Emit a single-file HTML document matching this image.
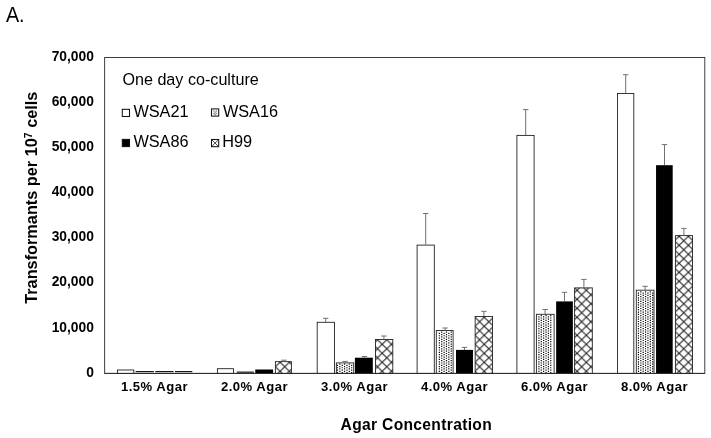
<!DOCTYPE html>
<html><head><meta charset="utf-8"><title>Figure A</title>
<style>html,body{margin:0;padding:0;background:#fff}body{width:711px;height:438px;overflow:hidden}</style></head>
<body>
<svg width="711" height="438" viewBox="0 0 711 438" style="display:block">
<defs>
<pattern id="hatch" width="9.28" height="9.0" patternUnits="userSpaceOnUse" patternTransform="translate(679.110 299.300)"><rect width="9.28" height="9.0" fill="#fff"/><path d="M-1.160 -1.125L10.440 10.125M10.440 -1.125L-1.160 10.125" stroke="#1c1c1c" stroke-width="1.0" fill="none"/></pattern>
</defs>
<rect x="0" y="0" width="711" height="438" fill="#fff"/>
<rect x="104.65" y="57.5" width="600.15" height="315.9" fill="none" stroke="#2a2a2a" stroke-width="0.9"/>
<rect x="117.45" y="370.00" width="16.35" height="3.40" fill="#fff" stroke="#222" stroke-width="0.9"/>
<rect x="135.60" y="371.10" width="18.30" height="1.1" fill="#000"/>
<rect x="155.30" y="371.10" width="18.30" height="1.1" fill="#000"/>
<rect x="175.00" y="371.10" width="17.30" height="1.1" fill="#000"/>
<rect x="217.40" y="368.70" width="16.10" height="4.70" fill="#fff" stroke="#222" stroke-width="0.9"/>
<rect x="236.75" y="371.60" width="17.15" height="1.1" fill="#000"/>
<rect x="255.25" y="369.50" width="17.85" height="3.90" fill="#000"/>
<rect x="275.40" y="361.65" width="16.00" height="11.75" fill="url(#hatch)" stroke="#222" stroke-width="0.9"/>
<path d="M283.90 361.35V360.20M281.20 360.20H286.60" stroke="#707070" stroke-width="1" fill="none"/>
<rect x="317.20" y="322.30" width="17.30" height="51.10" fill="#fff" stroke="#222" stroke-width="0.9"/>
<path d="M325.70 322.00V318.30M323.00 318.30H328.40" stroke="#707070" stroke-width="1" fill="none"/>
<rect x="336.35" y="362.90" width="17.35" height="10.50" fill="#fff" stroke="#222" stroke-width="0.9"/>
<path d="M337.46 364.79V372.90M339.83 363.60V372.90M342.20 364.79V372.90M344.57 363.60V372.90M346.94 364.79V372.90M349.31 363.60V372.90M351.68 364.79V372.90" stroke="#000" stroke-width="1.18" stroke-dasharray="1.18 1.190" fill="none"/>
<path d="M345.10 362.60V361.40M342.40 361.40H347.80" stroke="#707070" stroke-width="1" fill="none"/>
<rect x="354.90" y="357.70" width="17.90" height="15.70" fill="#000"/>
<path d="M364.50 357.70V356.50M361.80 356.50H367.20" stroke="#707070" stroke-width="1" fill="none"/>
<rect x="375.50" y="339.50" width="17.30" height="33.90" fill="url(#hatch)" stroke="#222" stroke-width="0.9"/>
<path d="M383.90 339.20V336.00M381.20 336.00H386.60" stroke="#707070" stroke-width="1" fill="none"/>
<rect x="417.10" y="245.10" width="17.20" height="128.30" fill="#fff" stroke="#222" stroke-width="0.9"/>
<path d="M425.70 244.80V213.50M423.00 213.50H428.40" stroke="#707070" stroke-width="1" fill="none"/>
<rect x="436.30" y="330.50" width="16.80" height="42.90" fill="#fff" stroke="#222" stroke-width="0.9"/>
<path d="M439.37 332.79V372.90M441.74 331.61V372.90M444.11 332.79V372.90M446.48 331.61V372.90M448.85 332.79V372.90M451.22 331.61V372.90" stroke="#000" stroke-width="1.18" stroke-dasharray="1.18 1.190" fill="none"/>
<path d="M445.10 330.20V328.00M442.40 328.00H447.80" stroke="#707070" stroke-width="1" fill="none"/>
<rect x="456.00" y="349.90" width="16.97" height="23.50" fill="#000"/>
<path d="M464.50 349.90V347.40M461.80 347.40H467.20" stroke="#707070" stroke-width="1" fill="none"/>
<rect x="475.15" y="316.50" width="17.30" height="56.90" fill="url(#hatch)" stroke="#222" stroke-width="0.9"/>
<path d="M483.90 316.20V311.30M481.20 311.30H486.60" stroke="#707070" stroke-width="1" fill="none"/>
<rect x="516.90" y="135.40" width="17.20" height="238.00" fill="#fff" stroke="#222" stroke-width="0.9"/>
<path d="M525.70 135.10V109.60M523.00 109.60H528.40" stroke="#707070" stroke-width="1" fill="none"/>
<rect x="536.40" y="314.30" width="17.70" height="59.10" fill="#fff" stroke="#222" stroke-width="0.9"/>
<path d="M538.91 316.20V372.90M541.28 315.02V372.90M543.65 316.20V372.90M546.02 315.02V372.90M548.39 316.20V372.90M550.76 315.02V372.90" stroke="#000" stroke-width="1.18" stroke-dasharray="1.18 1.190" fill="none"/>
<path d="M545.10 314.00V309.50M542.40 309.50H547.80" stroke="#707070" stroke-width="1" fill="none"/>
<rect x="556.15" y="301.40" width="16.71" height="72.00" fill="#000"/>
<path d="M564.50 301.40V292.30M561.80 292.30H567.20" stroke="#707070" stroke-width="1" fill="none"/>
<rect x="574.60" y="287.90" width="17.70" height="85.50" fill="url(#hatch)" stroke="#222" stroke-width="0.9"/>
<path d="M583.90 287.60V279.40M581.20 279.40H586.60" stroke="#707070" stroke-width="1" fill="none"/>
<rect x="617.50" y="93.50" width="16.30" height="279.90" fill="#fff" stroke="#222" stroke-width="0.9"/>
<path d="M625.70 93.20V74.70M623.00 74.70H628.40" stroke="#707070" stroke-width="1" fill="none"/>
<rect x="636.30" y="290.20" width="17.70" height="83.20" fill="#fff" stroke="#222" stroke-width="0.9"/>
<path d="M638.45 292.50V372.90M640.82 291.31V372.90M643.19 292.50V372.90M645.56 291.31V372.90M647.93 292.50V372.90M650.30 291.31V372.90M652.67 292.50V372.90" stroke="#000" stroke-width="1.18" stroke-dasharray="1.18 1.190" fill="none"/>
<path d="M645.10 289.90V286.30M642.40 286.30H647.80" stroke="#707070" stroke-width="1" fill="none"/>
<rect x="656.05" y="165.20" width="16.65" height="208.20" fill="#000"/>
<path d="M664.50 165.20V144.60M661.80 144.60H667.20" stroke="#707070" stroke-width="1" fill="none"/>
<rect x="675.40" y="235.60" width="17.10" height="137.80" fill="url(#hatch)" stroke="#222" stroke-width="0.9"/>
<path d="M683.90 235.30V228.40M681.20 228.40H686.60" stroke="#707070" stroke-width="1" fill="none"/>
<path d="M104.65 373.4H704.8" stroke="#2a2a2a" stroke-width="0.9"/>
<text x="93.9" y="376.65" text-anchor="end" font-family="Liberation Sans, Arial, sans-serif" font-size="13.8" font-weight="bold" fill="#000">0</text>
<text x="93.9" y="331.52" text-anchor="end" font-family="Liberation Sans, Arial, sans-serif" font-size="13.8" font-weight="bold" fill="#000">10,000</text>
<text x="93.9" y="286.39" text-anchor="end" font-family="Liberation Sans, Arial, sans-serif" font-size="13.8" font-weight="bold" fill="#000">20,000</text>
<text x="93.9" y="241.26" text-anchor="end" font-family="Liberation Sans, Arial, sans-serif" font-size="13.8" font-weight="bold" fill="#000">30,000</text>
<text x="93.9" y="196.14" text-anchor="end" font-family="Liberation Sans, Arial, sans-serif" font-size="13.8" font-weight="bold" fill="#000">40,000</text>
<text x="93.9" y="151.01" text-anchor="end" font-family="Liberation Sans, Arial, sans-serif" font-size="13.8" font-weight="bold" fill="#000">50,000</text>
<text x="93.9" y="105.88" text-anchor="end" font-family="Liberation Sans, Arial, sans-serif" font-size="13.8" font-weight="bold" fill="#000">60,000</text>
<text x="93.9" y="60.75" text-anchor="end" font-family="Liberation Sans, Arial, sans-serif" font-size="13.8" font-weight="bold" fill="#000">70,000</text>
<text x="154.50" y="391.2" text-anchor="middle" font-family="Liberation Sans, Arial, sans-serif" font-size="13.1" letter-spacing="0.48" font-weight="bold" fill="#000">1.5% Agar</text>
<text x="254.50" y="391.2" text-anchor="middle" font-family="Liberation Sans, Arial, sans-serif" font-size="13.1" letter-spacing="0.48" font-weight="bold" fill="#000">2.0% Agar</text>
<text x="354.50" y="391.2" text-anchor="middle" font-family="Liberation Sans, Arial, sans-serif" font-size="13.1" letter-spacing="0.48" font-weight="bold" fill="#000">3.0% Agar</text>
<text x="454.50" y="391.2" text-anchor="middle" font-family="Liberation Sans, Arial, sans-serif" font-size="13.1" letter-spacing="0.48" font-weight="bold" fill="#000">4.0% Agar</text>
<text x="554.50" y="391.2" text-anchor="middle" font-family="Liberation Sans, Arial, sans-serif" font-size="13.1" letter-spacing="0.48" font-weight="bold" fill="#000">6.0% Agar</text>
<text x="654.50" y="391.2" text-anchor="middle" font-family="Liberation Sans, Arial, sans-serif" font-size="13.1" letter-spacing="0.48" font-weight="bold" fill="#000">8.0% Agar</text>
<text x="416.3" y="429.5" text-anchor="middle" font-family="Liberation Sans, Arial, sans-serif" font-size="15.6" letter-spacing="0.33" font-weight="bold" fill="#000">Agar Concentration</text>
<text transform="translate(37,197.7) rotate(-90)" text-anchor="middle" font-family="Liberation Sans, Arial, sans-serif" font-size="16.3" font-weight="bold" fill="#000">Transformants per 10<tspan font-size="10.5" dy="-5.3">7</tspan><tspan dy="5.3"> cells</tspan></text>
<text x="122.4" y="84.7" font-family="Liberation Sans, Arial, sans-serif" font-size="16.15" fill="#000">One day co-culture</text>
<rect x="122.30" y="109.30" width="7.2" height="7.2" fill="#fff" stroke="#111" stroke-width="1.05"/>
<rect x="122.30" y="139.40" width="7.2" height="7.2" fill="#000" stroke="#111" stroke-width="1.05"/>
<rect x="211.50" y="108.90" width="7.2" height="7.2" fill="#fff" stroke="#111" stroke-width="1.05"/>
<rect x="211.50" y="139.50" width="7.2" height="7.2" fill="#fff" stroke="#111" stroke-width="1.05"/>
<path d="M213.35 111.00h1.1M215.75 111.00h1.1M214.55 112.20h1.1M213.35 113.40h1.1M215.75 113.40h1.1M214.55 114.60h1.1" stroke="#444" stroke-width="1.0" fill="none"/>
<path d="M211.7 139.7L218.5 146.5M218.5 139.7L211.7 146.5" stroke="#333" stroke-width="0.9" fill="none"/>
<text x="133.4" y="116.9" font-family="Liberation Sans, Arial, sans-serif" font-size="16.3" style="font-kerning:none" fill="#000">WSA21</text>
<text x="133.4" y="146.9" font-family="Liberation Sans, Arial, sans-serif" font-size="16.3" style="font-kerning:none" fill="#000">WSA86</text>
<text x="222.9" y="116.9" font-family="Liberation Sans, Arial, sans-serif" font-size="16.3" style="font-kerning:none" fill="#000">WSA16</text>
<text x="222.3" y="146.9" font-family="Liberation Sans, Arial, sans-serif" font-size="16.3" style="font-kerning:none" fill="#000">H99</text>
<text transform="translate(5.9 22.1) scale(0.89 1)" font-family="Liberation Sans, Arial, sans-serif" font-size="22.2" fill="#000">A.</text>
</svg>
</body></html>
